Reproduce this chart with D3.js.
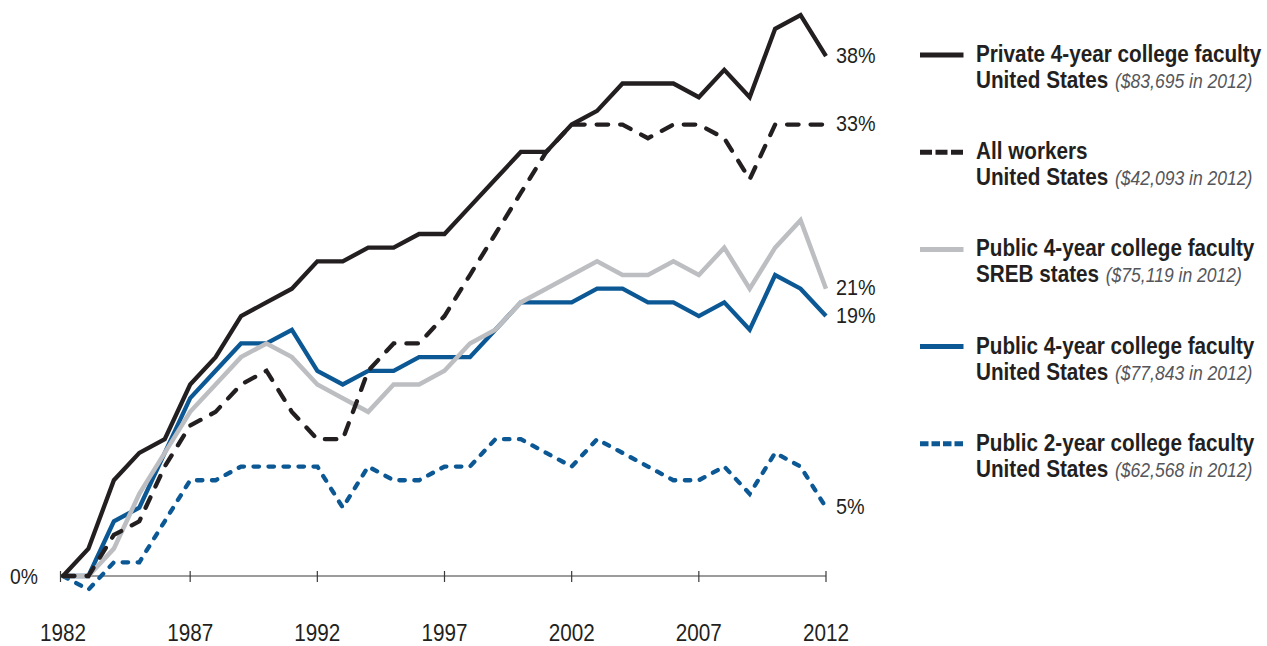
<!DOCTYPE html>
<html>
<head>
<meta charset="utf-8">
<script src="https://cdn.jsdelivr.net/npm/d3@7"></script>
<style>
  html, body { margin: 0; padding: 0; background: #ffffff; }
  svg { display: block; font-family: "Liberation Sans", Arial, Helvetica, sans-serif; }
</style>
</head>
<body>
<svg id="chart" width="1267" height="646"></svg>
<script>
// Cumulative percent change in average salary since 1982
const years = [1982, 1983, 1984, 1985, 1986, 1987, 1988, 1989, 1990, 1991,
               1992, 1993, 1994, 1995, 1996, 1997, 1998, 1999, 2000, 2001,
               2002, 2003, 2004, 2005, 2006, 2007, 2008, 2009, 2010, 2011, 2012];

const private4US = [0, 2, 7, 9, 10, 14, 16, 19, 20, 21, 23, 23, 24, 24, 25, 25,
                    27, 29, 31, 31, 33, 34, 36, 36, 36, 35, 37, 35, 40, 41, 38];
const allWorkersUS = [0, 0, 3, 4, 8, 11, 12, 14, 15, 12, 10, 10, 15, 17, 17, 19,
                      22, 25, 28, 31, 33, 33, 33, 32, 33, 33, 32, 29, 33, 33, 33];
const public4SREB = [0, 0, 2, 6, 9, 12, 14, 16, 17, 16, 14, 13, 12, 14, 14, 15,
                     17, 18, 20, 21, 22, 23, 22, 22, 23, 22, 24, 21, 24, 26, 21];
const public4US = [0, 0, 4, 5, 9, 13, 15, 17, 17, 18, 15, 14, 15, 15, 16, 16,
                   16, 18, 20, 20, 20, 21, 21, 20, 20, 19, 20, 18, 22, 21, 19];
const public2US = [0, -1, 1, 1, 4, 7, 7, 8, 8, 8, 8, 5, 8, 7, 7, 8,
                   8, 10, 10, 9, 8, 10, 9, 8, 7, 7, 8, 6, 9, 8, 5];

const tickYears = [1982, 1987, 1992, 1997, 2002, 2007, 2012];

const seriesNames = ["Private 4-year college faculty", "All workers",
                     "Public 4-year college faculty", "Public 4-year college faculty",
                     "Public 2-year college faculty"];
const seriesRegions = ["United States", "United States", "SREB states",
                       "United States", "United States"];
const seriesNotes = ["($83,695 in 2012)", "($42,093 in 2012)", "($75,119 in 2012)",
                     "($77,843 in 2012)", "($62,568 in 2012)"];
const seriesValues = [private4US, allWorkersUS, public4SREB, public4US, public2US];

// styling per series (same order as above)
const BLACK = "#231f20", BLUE = "#0b5895", GRAY = "#bdbec1";
const styles = [
  { color: BLACK, dash: null,     legendDash: null,      width: 4.3 },
  { color: BLACK, dash: "11.5,12", legendDash: "12,3.5",  width: 4.3 },
  { color: GRAY,  dash: null,     legendDash: null,      width: 4.5 },
  { color: BLUE,  dash: null,     legendDash: null,      width: 4.3 },
  { color: BLUE,  dash: "5.5,9.5", legendDash: "8.5,3",   width: 4.3 }
];
// painting order, back to front
const drawOrder = [4, 3, 2, 1, 0];

// condensed type: regular face squeezed horizontally
const SQUEEZE = 0.9;
const placeText = (sel, px, py) =>
  sel.attr("transform", (d, i) => `translate(${typeof px === "function" ? px(d, i) : px},${typeof py === "function" ? py(d, i) : py}) scale(${SQUEEZE},1)`);

const svg = d3.select("#chart");

const x = d3.scaleLinear().domain([1982, 2012]).range([63, 826]);
const y = d3.scaleLinear().domain([0, 40]).range([576, 28.8]);

// x axis: baseline with ticks crossing it
const axisG = svg.append("g").attr("transform", `translate(0,${y(0)})`);
axisG.append("line")
  .attr("x1", 60).attr("x2", x(2012))
  .attr("stroke", "#3a3a3a").attr("stroke-width", 1.2);
axisG.selectAll("line.tick")
  .data(tickYears)
  .join("line")
  .attr("class", "tick")
  .attr("x1", d => d === 1982 ? 60.5 : x(d))
  .attr("x2", d => d === 1982 ? 60.5 : x(d))
  .attr("y1", -5).attr("y2", 6)
  .attr("stroke", "#3a3a3a").attr("stroke-width", 1.2);
axisG.selectAll("text.year")
  .data(tickYears)
  .join("text")
  .attr("class", "year")
  .call(placeText, d => x(d), 65)
  .attr("text-anchor", "middle")
  .attr("font-size", 23)
  .attr("fill", BLACK)
  .text(d => d);

svg.append("text")
  .datum(0)
  .call(placeText, 10, y(0) + 7.5)
  .attr("font-size", 21.5)
  .attr("fill", BLACK)
  .text("0%");

// series lines
const line = d3.line()
  .x((d, i) => x(years[i]))
  .y(d => y(d));

const linesG = svg.append("g").attr("fill", "none");
drawOrder.forEach(k => {
  const st = styles[k];
  linesG.append("path")
    .datum(seriesValues[k])
    .attr("d", line)
    .attr("stroke", st.color)
    .attr("stroke-width", st.width)
    .attr("stroke-linejoin", "miter")
    .attr("stroke-linecap", st.dash ? "round" : "butt")
    .attr("stroke-dasharray", st.dash);
});

// end-of-line labels for the 2012 value
const endLabels = [0, 1, 2, 3, 4];
const lastVal = k => seriesValues[k][seriesValues[k].length - 1];
svg.selectAll("text.endval")
  .data(endLabels)
  .join("text")
  .attr("class", "endval")
  .call(placeText, 836, k => y(lastVal(k)) + 6.5)
  .attr("font-size", 22)
  .attr("fill", BLACK)
  .text(k => lastVal(k) + "%");

// legend
const legendTop = 62, legendStep = 97.2;
const legend = svg.append("g");
seriesNames.forEach((name, k) => {
  const st = styles[k];
  const by = legendTop + k * legendStep;
  const g = legend.append("g").attr("transform", `translate(0,${by})`);
  g.append("line")
    .attr("x1", 920).attr("x2", 963.5)
    .attr("y1", -7).attr("y2", -7)
    .attr("stroke", st.color)
    .attr("stroke-width", 5)
    .attr("stroke-dasharray", st.legendDash);
  g.append("text")
    .datum(k)
    .call(placeText, 976, 0)
    .attr("font-size", 23).attr("font-weight", "bold")
    .attr("fill", BLACK)
    .text(name);
  const t2 = g.append("text")
    .datum(k)
    .call(placeText, 976, 26)
    .attr("font-size", 23).attr("font-weight", "bold")
    .attr("fill", BLACK);
  t2.append("tspan").text(seriesRegions[k] + " ");
  t2.append("tspan")
    .attr("font-size", 19.5).attr("font-weight", "normal")
    .attr("font-style", "italic")
    .attr("fill", "#55565a")
    .attr("dx", 1)
    .text(seriesNotes[k]);
});
</script>
</body>
</html>
